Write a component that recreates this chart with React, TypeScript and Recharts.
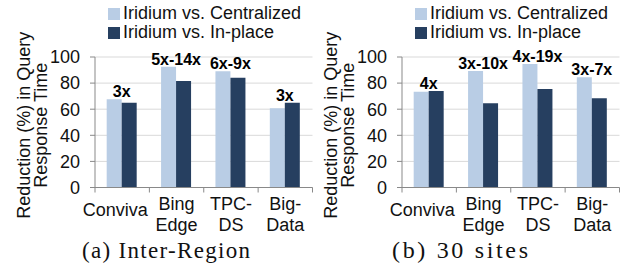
import React from 'react'
import { BarChart, Bar, XAxis, YAxis, CartesianGrid, LabelList, Label } from 'recharts'

// categories (a line break splits the tick label in two)
const categories = ['Conviva', 'Bing\nEdge', 'TPC-\nDS', 'Big-\nData']
const yTicks = [0, 20, 40, 60, 80, 100]

// (a) Inter-Region
const interCentralized = [67.6, 92.6, 89, 60.7]
const interInPlace = [65, 81.6, 84.1, 65]
const interSpeedup = ['3x', '5x-14x', '6x-9x', '3x']

// (b) 30 sites
const sitesCentralized = [73.4, 89.3, 94.6, 84.4]
const sitesInPlace = [73.9, 64.5, 75.5, 68.4]
const sitesSpeedup = ['4x', '3x-10x', '4x-19x', '3x-7x']

const LIGHT = '#b9cde5'
const DARK = '#263f60'
const AXIS = '#898989'
const GRID = '#d9d9d9'
const FONT = '"Liberation Sans", Arial, sans-serif'

const W = 315
const H = 276
const AXIS_X = 95
const PLOT_W = 217.5
const HALF_BAND = PLOT_W / categories.length / 2

const buildRows = (a: number[], b: number[], labels: string[]) =>
    categories.map((name, i) => ({ name, centralized: a[i], inplace: b[i], label: labels[i] }))

function XTick(props: any) {
    const { x, y, payload, index } = props
    const lines = String(payload.value).split('\n')
    const shift = index === 0 ? -7 : 0
    return (
        <g>
            <line x1={x - HALF_BAND} x2={x - HALF_BAND} y1={y} y2={y + 5} stroke={AXIS} />
            {index === categories.length - 1 && (
                <line x1={x + HALF_BAND} x2={x + HALF_BAND} y1={y} y2={y + 5} stroke={AXIS} />
            )}
            {lines.map((t, i) => (
                <text key={i} x={x + shift} y={y + (lines.length === 1 ? 28.5 : 22.5 + i * 21)}
                    textAnchor="middle" fontSize={18} fontFamily={FONT} fill="#111">
                    {t}
                </text>
            ))}
        </g>
    )
}

function YTitle(props: any) {
    const vb = props.viewBox || { x: 0, y: 57, height: 130.5 }
    const cy = vb.y + vb.height / 2 + 3
    return (
        <g fontFamily={FONT} fontSize={18} fill="#111">
            <text x={30} y={cy} textAnchor="middle" transform={`rotate(-90 30 ${cy})`}>Reduction (%) in Query</text>
            <text x={47} y={cy} textAnchor="middle" transform={`rotate(-90 47 ${cy})`}>Response Time</text>
        </g>
    )
}

// speedup label sits over whichever bar of the pair is taller
const makeLabel = (a: number[], b: number[], isLight: boolean) => (props: any) => {
    const { x, y, width, index, value } = props
    const show = isLight ? a[index] >= b[index] : b[index] > a[index]
    if (!show) return null
    const cx = isLight ? x + width : x
    return (
        <text x={cx} y={y - 2} textAnchor="middle" fontSize={16} fontWeight="bold" fontFamily={FONT} fill="#000">
            {value}
        </text>
    )
}

function Panel({ left, a, b, labels, caption, captionX, captionLen, captionSize }: any) {
    const rows = buildRows(a, b, labels)
    return (
        <div style={{ position: 'absolute', left, top: 0, width: W, height: H }}>
            <BarChart width={W} height={H} data={rows} margin={{ top: 57, right: 2.5, bottom: 38.5, left: 0 }}
                barCategoryGap="21.5%" barGap={0}>
                <CartesianGrid vertical={false} stroke={GRID} />
                <XAxis dataKey="name" height={50} tick={<XTick />} tickLine={false} tickSize={0} tickMargin={0}
                    axisLine={{ stroke: AXIS }} interval={0} />
                <YAxis width={AXIS_X} domain={[0, 100]} ticks={yTicks} tickSize={5} tickMargin={10}
                    tickLine={{ stroke: AXIS }} axisLine={{ stroke: AXIS }}
                    tick={{ fontSize: 18, fontFamily: FONT, fill: '#111' }}>
                    <Label content={<YTitle />} />
                </YAxis>
                <Bar dataKey="centralized" fill={LIGHT} isAnimationActive={false}>
                    <LabelList dataKey="label" content={makeLabel(a, b, true)} />
                </Bar>
                <Bar dataKey="inplace" fill={DARK} isAnimationActive={false}>
                    <LabelList dataKey="label" content={makeLabel(a, b, false)} />
                </Bar>
            </BarChart>
            <div style={{ position: 'absolute', left: 108, top: 4, fontFamily: FONT, fontSize: 18, color: '#111', lineHeight: '19px' }}>
                <div style={{ display: 'flex', alignItems: 'center', height: 19 }}>
                    <span style={{ width: 12, height: 12, background: LIGHT, marginRight: 3 }} />Iridium vs. Centralized
                </div>
                <div style={{ display: 'flex', alignItems: 'center', height: 19 }}>
                    <span style={{ width: 12, height: 12, background: DARK, marginRight: 3 }} />Iridium vs. In-place
                </div>
            </div>
            <svg width={W} height={40} style={{ position: 'absolute', left: 0, top: 236 }}>
                <text x={captionX} y={22} textAnchor="middle" fontFamily='"Liberation Serif", serif' fontSize={captionSize}
                    textLength={captionLen} lengthAdjust="spacing" fill="#111">
                    {caption}
                </text>
            </svg>
        </div>
    )
}

export default function App() {
    return (
        <div style={{ position: 'absolute', left: 0, top: 0, width: 629, height: 276, background: '#fff', overflow: 'hidden' }}>
            <Panel left={0} a={interCentralized} b={interInPlace} labels={interSpeedup}
                caption="(a) Inter-Region" captionX={166} captionLen={168} captionSize={23} />
            <Panel left={307} a={sitesCentralized} b={sitesInPlace} labels={sitesSpeedup}
                caption="(b) 30 sites" captionX={153} captionLen={136} captionSize={24} />
        </div>
    )
}
